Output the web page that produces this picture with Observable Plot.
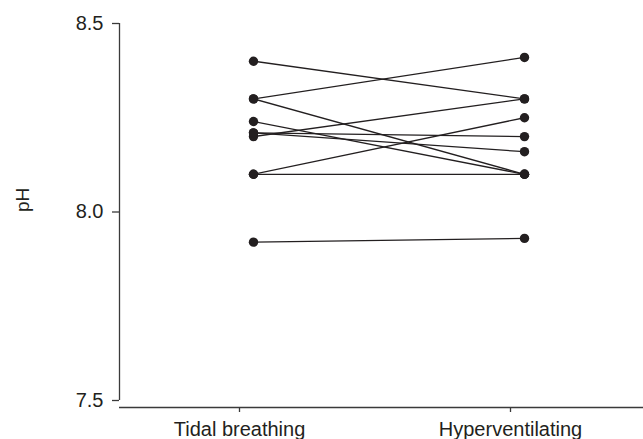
<!DOCTYPE html>
<html>
<head>
<meta charset="utf-8">
<script src="https://cdn.jsdelivr.net/npm/d3@7"></script>
<script src="https://cdn.jsdelivr.net/npm/@observablehq/plot@0.6"></script>
<style>
  html, body { margin: 0; padding: 0; background: #fff; }
</style>
</head>
<body>
<div id="chart"></div>
<script>
const categories = ["Tidal breathing", "Hyperventilating"];
const tidal = [8.40, 8.30, 8.30, 8.24, 8.21, 8.20, 8.21, 8.10, 8.10, 7.92];
const hyper = [8.30, 8.41, 8.10, 8.10, 8.16, 8.30, 8.20, 8.25, 8.10, 7.93];
const yTicks = [7.5, 8.0, 8.5];
const yLabel = "pH";

const pairs = tidal.map((t, i) => ({t, h: hyper[i]}));
const points = [
  ...tidal.map(v => ({cat: categories[0], v})),
  ...hyper.map(v => ({cat: categories[1], v}))
];

const ink = "#231f20";
const axisInk = "#3a3a3a";
const font = "'Liberation Sans', Arial, sans-serif";

const chart = Plot.plot({
  width: 643,
  height: 439,
  marginLeft: 119,
  marginRight: 0,
  marginTop: 23,
  marginBottom: 39,
  style: {fontSize: "20px", fontFamily: font, color: ink, background: "#fff"},
  x: {type: "point", domain: categories, range: [253, 524], padding: 0},
  y: {domain: [7.5, 8.5]},
  marks: [
    Plot.axisY({ticks: yTicks, tickFormat: d3.format(".1f"), tickSize: 7, tickPadding: 9, label: null, stroke: axisInk, strokeWidth: 1.3, fontSize: 20, fill: ink}),
    Plot.ruleX([categories[0]], {x: d => d, y1: 7.5, y2: 8.5, dx: -134, stroke: axisInk, strokeWidth: 1.3}),
    Plot.axisX({dx: -14, dy: 7, tickSize: 5, tickPadding: 9, label: null, stroke: axisInk, strokeWidth: 1.3, fontSize: 20, fill: ink}),
    Plot.ruleY([7.5], {dy: 7, stroke: axisInk, strokeWidth: 1.3}),
    Plot.text([yLabel], {text: d => d, frameAnchor: "left", dx: -97, rotate: -90, fontSize: 19, fill: ink}),
    Plot.link(pairs, {x1: () => categories[0], x2: () => categories[1], y1: "t", y2: "h", stroke: ink, strokeWidth: 1.3}),
    Plot.dot(points, {x: "cat", y: "v", r: 4.7, fill: ink, stroke: "none"})
  ]
});
document.getElementById("chart").appendChild(chart);
</script>
</body>
</html>
